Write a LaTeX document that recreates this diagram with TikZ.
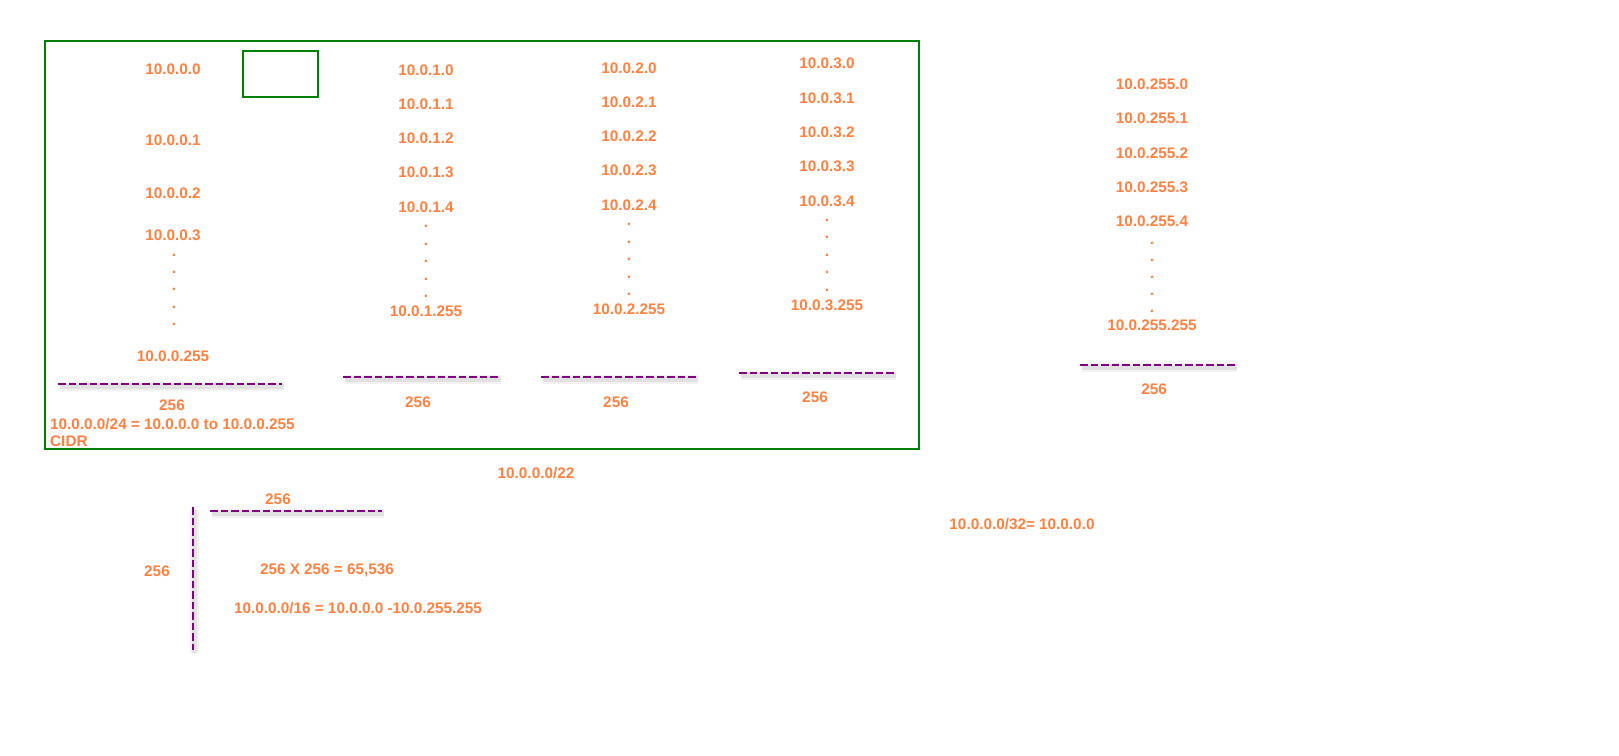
\documentclass[tikz,border=0pt]{standalone}
\usepackage{fontspec}
\setmainfont{Liberation Sans}
\definecolor{ip}{RGB}{255,128,64}
\definecolor{vert}{RGB}{0,128,0}
\definecolor{mauve}{RGB}{128,0,128}

\begin{document}
\begin{tikzpicture}[x=1pt, y=-1pt]
	% STYLES
	\tikzstyle{adr} = [text=ip, font=\bfseries\fontsize{15.3}{18}\selectfont, inner sep=0pt]
	\tikzstyle{cadre} = [draw=vert, line width=1.6pt]
	\tikzstyle{trait} = [draw=mauve, line width=2.3pt, dash pattern=on 7.5pt off 3pt,
		preaction={draw=black, opacity=.05, line width=9pt, solid, transform canvas={xshift=1.5pt, yshift=-2.5pt}},
		preaction={draw=black, opacity=.07, line width=5pt, solid, transform canvas={xshift=1.5pt, yshift=-2.5pt}}]

	\useasboundingbox (0,0) rectangle (1619,755);

	% BLOC /22
	\draw[cadre] (45,41) rectangle (919,449);
	\draw[cadre] (243,51) rectangle (318,97);

	% 10.0.0.x
	\node[adr] (a0) at (173,69) {10.0.0.0};
	\node[adr] (a1) at (173,140) {10.0.0.1};
	\node[adr] (a2) at (173,193) {10.0.0.2};
	\node[adr] (a3) at (173,235) {10.0.0.3};
	\foreach \y [count=\i] in {255,272,289,307,324}
		\node[adr] (ap\i) at (174,\y) {.};
	\node[adr] (a255) at (173,356) {10.0.0.255};
	\draw[trait] (58,384) -- (282,384);
	\node[adr] (an) at (172,405) {256};
	\node[adr, anchor=west] (cidr24) at (50,424) {10.0.0.0/24 = 10.0.0.0 to 10.0.0.255};
	\node[adr, anchor=west] (cidr) at (50,441) {CIDR};

	% 10.0.1.x
	\node[adr] (b0) at (426,70) {10.0.1.0};
	\node[adr] (b1) at (426,104) {10.0.1.1};
	\node[adr] (b2) at (426,138) {10.0.1.2};
	\node[adr] (b3) at (426,172) {10.0.1.3};
	\node[adr] (b4) at (426,207) {10.0.1.4};
	\foreach \y [count=\i] in {226,244,261,279,296}
		\node[adr] (bp\i) at (426,\y) {.};
	\node[adr] (b255) at (426,311) {10.0.1.255};
	\draw[trait] (343,377) -- (499,377);
	\node[adr] (bn) at (418,402) {256};

	% 10.0.2.x
	\node[adr] (c0) at (629,68) {10.0.2.0};
	\node[adr] (c1) at (629,102) {10.0.2.1};
	\node[adr] (c2) at (629,136) {10.0.2.2};
	\node[adr] (c3) at (629,170) {10.0.2.3};
	\node[adr] (c4) at (629,205) {10.0.2.4};
	\foreach \y [count=\i] in {224,242,259,277,294}
		\node[adr] (cp\i) at (629,\y) {.};
	\node[adr] (c255) at (629,309) {10.0.2.255};
	\draw[trait] (541,377) -- (696,377);
	\node[adr] (cn) at (616,402) {256};

	% 10.0.3.x
	\node[adr] (d0) at (827,63) {10.0.3.0};
	\node[adr] (d1) at (827,98) {10.0.3.1};
	\node[adr] (d2) at (827,132) {10.0.3.2};
	\node[adr] (d3) at (827,166) {10.0.3.3};
	\node[adr] (d4) at (827,201) {10.0.3.4};
	\foreach \y [count=\i] in {220,237,255,272,290}
		\node[adr] (dp\i) at (827,\y) {.};
	\node[adr] (d255) at (827,305) {10.0.3.255};
	\draw[trait] (739,373) -- (894,373);
	\node[adr] (dn) at (815,397) {256};

	\node[adr] (cidr22) at (536,473) {10.0.0.0/22};

	% 10.0.255.x
	\node[adr] (e0) at (1152,84) {10.0.255.0};
	\node[adr] (e1) at (1152,118) {10.0.255.1};
	\node[adr] (e2) at (1152,153) {10.0.255.2};
	\node[adr] (e3) at (1152,187) {10.0.255.3};
	\node[adr] (e4) at (1152,221) {10.0.255.4};
	\foreach \y [count=\i] in {243,260,277,294,311}
		\node[adr] (ep\i) at (1152,\y) {.};
	\node[adr] (e255) at (1152,325) {10.0.255.255};
	\draw[trait] (1080,365) -- (1235,365);
	\node[adr] (en) at (1154,389) {256};

	% /16
	\node[adr] (hn) at (278,499) {256};
	\draw[trait] (210,511) -- (382,511);
	\draw[trait] (193,507) -- (193,650);
	\node[adr] (vn) at (157,571) {256};
	\node[adr] (prod) at (327,570) {256 X 256 = 65,536};
	\node[adr] (cidr16) at (358,608) {10.0.0.0/16 = 10.0.0.0 -10.0.255.255};

	% /32
	\node[adr] (cidr32) at (1022,524) {10.0.0.0/32= 10.0.0.0};
\end{tikzpicture}
\end{document}
